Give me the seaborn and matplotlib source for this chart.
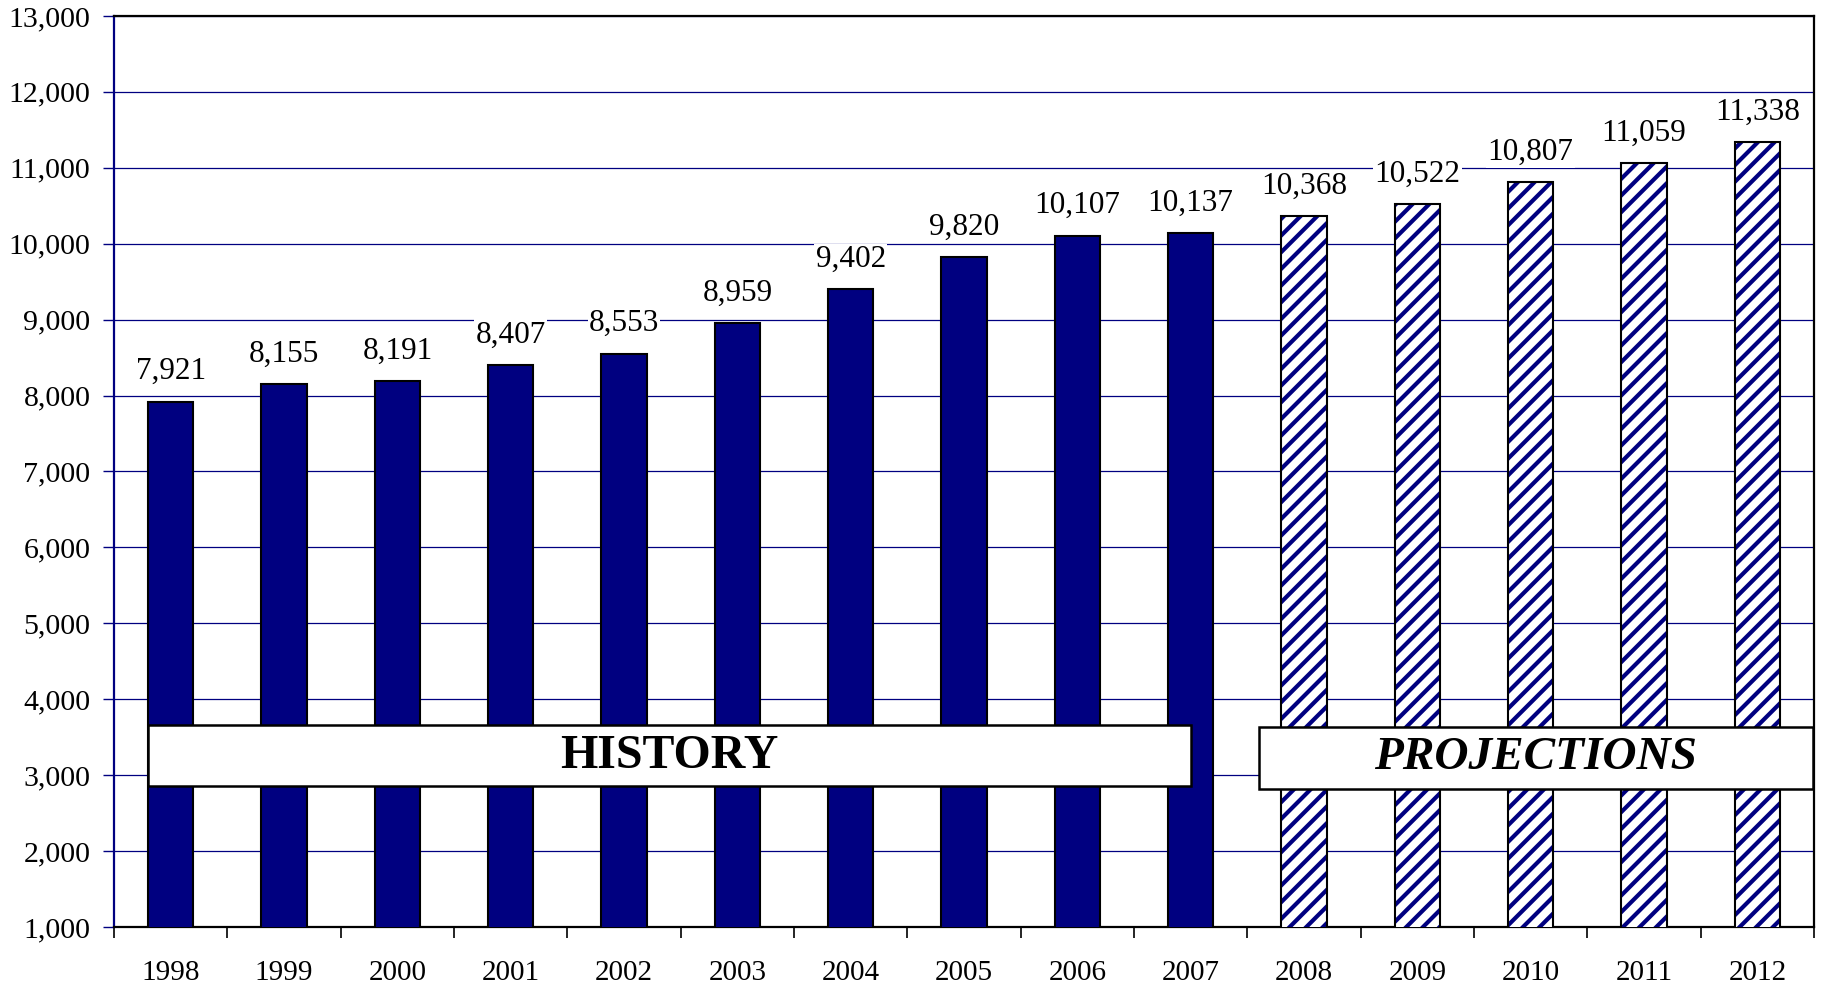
import numpy as np
import pandas as pd
import seaborn as sns
import matplotlib.pyplot as plt
import matplotlib.ticker as mticker
from matplotlib.patches import Rectangle

years = ['1998', '1999', '2000', '2001', '2002', '2003', '2004', '2005',
         '2006', '2007', '2008', '2009', '2010', '2011', '2012']
values = [7921, 8155, 8191, 8407, 8553, 8959, 9402, 9820,
          10107, 10137, 10368, 10522, 10807, 11059, 11338]
projection_years = ['2008', '2009', '2010', '2011', '2012']

navy = '#000080'

sns.set_style('white')
plt.rcParams['font.family'] = ['Liberation Serif', 'DejaVu Serif']
plt.rcParams['text.color'] = 'black'
plt.rcParams['xtick.color'] = 'black'
plt.rcParams['ytick.color'] = 'black'
plt.rcParams['hatch.linewidth'] = 3.0

df = pd.DataFrame({'year': years, 'value': values})

fig = plt.figure(figsize=(18.22, 9.85), dpi=100)
ax = fig.add_axes([0.0626, 0.059, 0.9956 - 0.0626, 0.9838 - 0.059])
sns.barplot(data=df, x='year', y='value', order=years, color=navy, saturation=1,
            width=0.4, edgecolor='black', linewidth=1.5, zorder=3, ax=ax)

# projections: hatched bars with a black outline on top
for yr, p in zip(years, ax.patches):
    if yr in projection_years:
        p.set_facecolor('white')
        p.set_hatch('//')
        p.set_edgecolor(navy)
        p.set_linewidth(0)
        ax.add_patch(Rectangle(p.get_xy(), p.get_width(), p.get_height(),
                               fill=False, ec='black', lw=1.5, zorder=4))

# value labels
for i, v in enumerate(values):
    ax.annotate(f'{v:,}', (i, v), xytext=(0, 11), textcoords='offset points',
                ha='center', va='bottom', fontsize=22.5, zorder=5,
                bbox=dict(fc='white', ec='none', pad=1))

ax.set_ylim(1000, 13000)
ax.set_yticks(range(1000, 13001, 1000))
ax.yaxis.set_major_formatter(mticker.StrMethodFormatter('{x:,.0f}'))
ax.yaxis.grid(True, color=navy, lw=0.9)
ax.set_axisbelow(True)

ax.set_xticks(np.arange(-0.5, len(years)), minor=True)
ax.tick_params(axis='x', which='major', bottom=True, length=0, pad=24, labelsize=21)
ax.tick_params(axis='x', which='minor', bottom=True, length=8, width=1.2,
               color='black', direction='out')
ax.tick_params(axis='y', left=True, length=8, width=1, color=navy, pad=9,
               labelsize=21.5, direction='out')
ax.set_xlim(-0.5, len(years) - 0.5)
ax.set_xlabel('')
ax.set_ylabel('')

for s in ax.spines.values():
    s.set_visible(True)
    s.set_color('black')
    s.set_linewidth(1.6)
ax.spines['left'].set_color(navy)

# section boxes
n_hist = len(years) - len(projection_years)
ax.add_patch(Rectangle((-0.2, 2850), n_hist - 0.8, 810, fc='white', ec='black',
                       lw=1.8, zorder=6))
ax.text((n_hist - 1) / 2 - 0.1, 3255, 'HISTORY', ha='center', va='center',
        fontsize=34.5, fontweight='bold', zorder=7)
proj_left = n_hist - 0.4
proj_right = len(years) - 0.51
ax.add_patch(Rectangle((proj_left, 2820), proj_right - proj_left, 810,
                       fc='white', ec='black', lw=1.8, zorder=6))
ax.text((proj_left + proj_right) / 2, 3225, 'PROJECTIONS',
        ha='center', va='center', fontsize=34, fontweight='bold', fontstyle='italic',
        zorder=7)

fig.savefig('out.png', dpi=100, facecolor='white')
